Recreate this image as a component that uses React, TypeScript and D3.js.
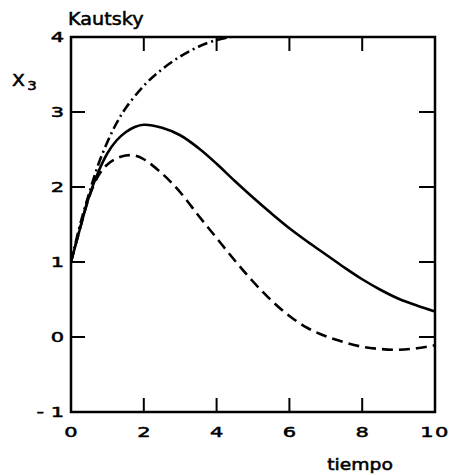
import React from "react";
import * as d3 from "d3";

const timeSolid = [0, 0.25, 0.5, 0.75, 1, 1.25, 1.5, 1.75, 2, 2.5, 3, 3.5, 4, 4.5, 5, 5.5, 6, 6.5, 7, 7.5, 8, 8.5, 9, 9.5, 10];
const solidValues = [1, 1.45, 1.88, 2.2, 2.45, 2.62, 2.73, 2.8, 2.83, 2.79, 2.69, 2.52, 2.31, 2.08, 1.86, 1.65, 1.45, 1.27, 1.1, 0.93, 0.77, 0.63, 0.51, 0.42, 0.34];
const timeDashed = [0, 0.25, 0.5, 0.75, 1, 1.25, 1.5, 1.75, 2, 2.5, 3, 3.5, 4, 4.5, 5, 5.5, 6, 6.5, 7, 7.5, 8, 8.5, 9, 9.5, 10];
const dashedValues = [1, 1.45, 1.87, 2.15, 2.3, 2.38, 2.42, 2.42, 2.37, 2.18, 1.93, 1.62, 1.32, 1.02, 0.74, 0.49, 0.28, 0.12, 0.01, -0.07, -0.13, -0.16, -0.17, -0.15, -0.11];
const timeDashDot = [0, 0.25, 0.5, 0.75, 1, 1.25, 1.5, 2, 2.5, 3, 3.5, 4, 4.4];
const dashDotValues = [1, 1.5, 1.92, 2.3, 2.6, 2.85, 3.05, 3.35, 3.57, 3.74, 3.87, 3.96, 4.0];

const xTicks = [0, 2, 4, 6, 8, 10];
const yTicks = [-1, 0, 1, 2, 3, 4];

const FONT = "'DejaVu Sans', sans-serif";

function Label(props: { x: number; y: number; size: number; sx: number; anchor?: string; children: React.ReactNode; ls?: number }) {
  const { x, y, size, sx, anchor = "start", children, ls = 0 } = props;
  return (
    <g transform={`translate(${x},${y}) scale(${sx},1)`}>
      <text x={0} y={0} fontFamily={FONT} fontSize={size} textAnchor={anchor} letterSpacing={ls}
        fill="#000" stroke="#000" strokeWidth={0.5}>{children}</text>
    </g>
  );
}

export default function App() {
  const left = 71, right = 435, top = 37, bottom = 412;
  const x = d3.scaleLinear().domain([0, 10]).range([left, right]);
  const y = d3.scaleLinear().domain([-1, 4]).range([bottom, top]);
  const line = d3.line<[number, number]>().x(d => x(d[0])).y(d => y(d[1])).curve(d3.curveCatmullRom.alpha(0.5));
  const mk = (t: number[], v: number[]) => line(t.map((tt, i) => [tt, v[i]] as [number, number])) || "";
  const tickLen = 14;
  return (
    <svg width={449} height={475} style={{ position: "absolute", left: 0, top: 0, background: "#fff" }}>
      <defs>
        <clipPath id="plot"><rect x={left} y={top - 1} width={right - left} height={bottom - top + 2} /></clipPath>
      </defs>
      <g clipPath="url(#plot)" fill="none" stroke="#000" strokeWidth={2.6} strokeLinecap="round">
        <path d={mk(timeSolid, solidValues)} />
        <path d={mk(timeDashed, dashedValues)} strokeDasharray="11 6" strokeLinecap="butt" />
        <path d={mk(timeDashDot, dashDotValues)} strokeDasharray="10 4 2 4" strokeLinecap="butt" />
      </g>
      <rect x={left} y={top} width={right - left} height={bottom - top} fill="none" stroke="#000" strokeWidth={2.5} />
      <g stroke="#000" strokeWidth={2}>
        {xTicks.filter(t => t > 0 && t < 10).map(t => (
          <g key={"x" + t}>
            <line x1={x(t)} x2={x(t)} y1={bottom} y2={bottom - tickLen} />
            <line x1={x(t)} x2={x(t)} y1={top} y2={top + tickLen} />
          </g>
        ))}
        {yTicks.filter(t => t > -1 && t < 4).map(t => (
          <g key={"y" + t}>
            <line x1={left} x2={left + tickLen} y1={y(t)} y2={y(t)} />
            <line x1={right} x2={right - 16} y1={y(t)} y2={y(t)} />
          </g>
        ))}
      </g>
      {xTicks.map(t => (
        <Label key={"xl" + t} x={x(t)} y={437} size={14} sx={1.5} anchor="middle" ls={t === 10 ? 1 : 0}>{String(t)}</Label>
      ))}
      {yTicks.map(t => (
        <Label key={"yl" + t} x={64} y={y(t) + 5} size={14} sx={1.5} anchor="end">{t < 0 ? "- " + Math.abs(t) : String(t)}</Label>
      ))}
      <Label x={360} y={470} size={15} sx={1.25} anchor="middle">tiempo</Label>
      <Label x={68} y={25} size={17} sx={1.13}>Kautsky</Label>
      <Label x={12} y={86} size={15} sx={1.25}>X<tspan fontSize={12} dy={4} dx={2}>3</tspan></Label>
    </svg>
  );
}
